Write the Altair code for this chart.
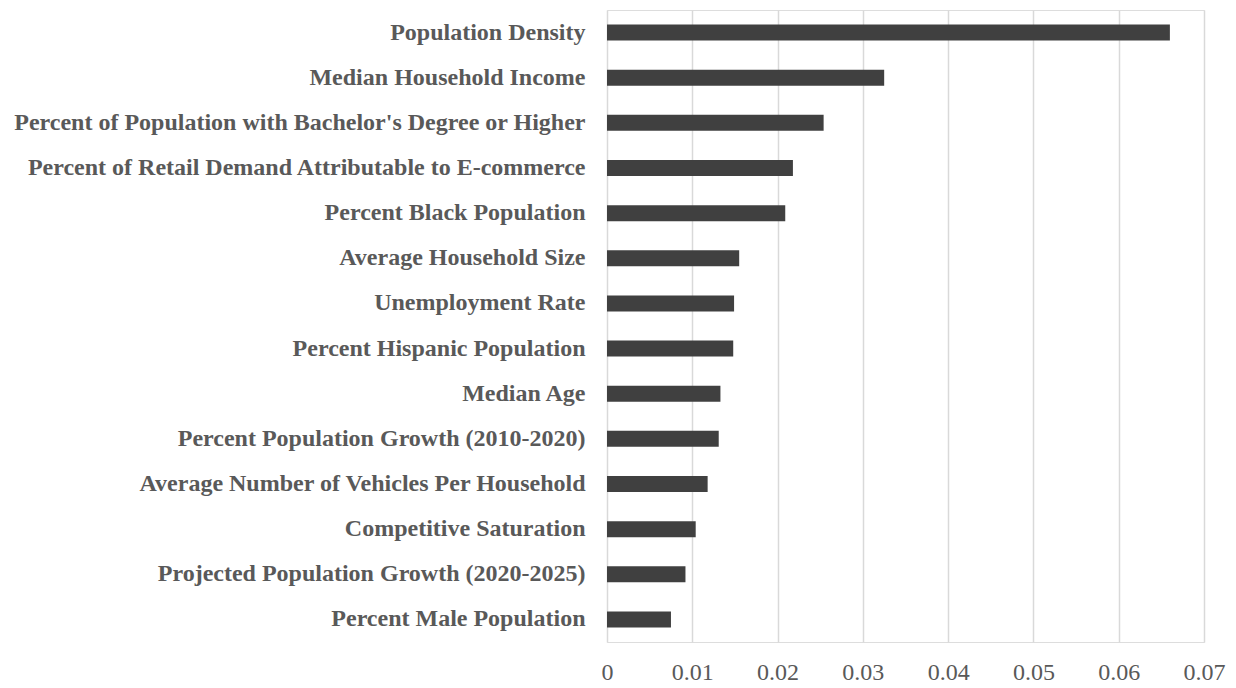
import altair as alt
import pandas as pd

# Feature importance per site-selection factor
factors = [
    "Population Density",
    "Median Household Income",
    "Percent of Population with Bachelor's Degree or Higher",
    "Percent of Retail Demand Attributable to E-commerce",
    "Percent Black Population",
    "Average Household Size",
    "Unemployment Rate",
    "Percent Hispanic Population",
    "Median Age",
    "Percent Population Growth (2010-2020)",
    "Average Number of Vehicles Per Household",
    "Competitive Saturation",
    "Projected Population Growth (2020-2025)",
    "Percent Male Population",
]
importance = [
    0.0660, 0.0325, 0.0254, 0.0218, 0.0209, 0.0155, 0.0149,
    0.0148, 0.0133, 0.0131, 0.0118, 0.0104, 0.0092, 0.0075,
]
x_ticks = [0, 0.01, 0.02, 0.03, 0.04, 0.05, 0.06, 0.07]

df = pd.DataFrame({"factor": factors, "importance": importance})

TEXT = "#595959"
SERIF = "Liberation Serif"

chart = (
    alt.Chart(df)
    .mark_bar(color="#404040", size=16)
    .encode(
        x=alt.X(
            "importance:Q",
            scale=alt.Scale(domain=[0, 0.07], nice=False, zero=True),
            axis=alt.Axis(
                title=None,
                values=x_ticks,
                labelExpr="datum.value == 0 ? '0' : format(datum.value, '.2f')",
                domain=False,
                ticks=False,
                grid=True,
                gridColor="#d9d9d9",
                gridWidth=1.5,
                labelFont=SERIF,
                labelFontSize=24,
                labelColor=TEXT,
                labelPadding=18,
                labelFlush=False,
            ),
        ),
        y=alt.Y(
            "factor:N",
            sort=factors,
            scale=alt.Scale(paddingInner=0, paddingOuter=0),
            axis=alt.Axis(
                title=None,
                domain=False,
                ticks=False,
                labelFont=SERIF,
                labelFontSize=24,
                labelFontWeight="bold",
                labelColor=TEXT,
                labelPadding=22,
                labelLimit=700,
            ),
        ),
    )
    .properties(
        width=597,
        height=632,
        autosize=alt.AutoSizeParams(type="none"),
        padding={"left": 607, "top": 10, "right": 32, "bottom": 46},
    )
    .configure_view(stroke=None)
    .configure(background="white")
)

chart.save("out.html", embed_options={"renderer": "svg", "actions": False})
